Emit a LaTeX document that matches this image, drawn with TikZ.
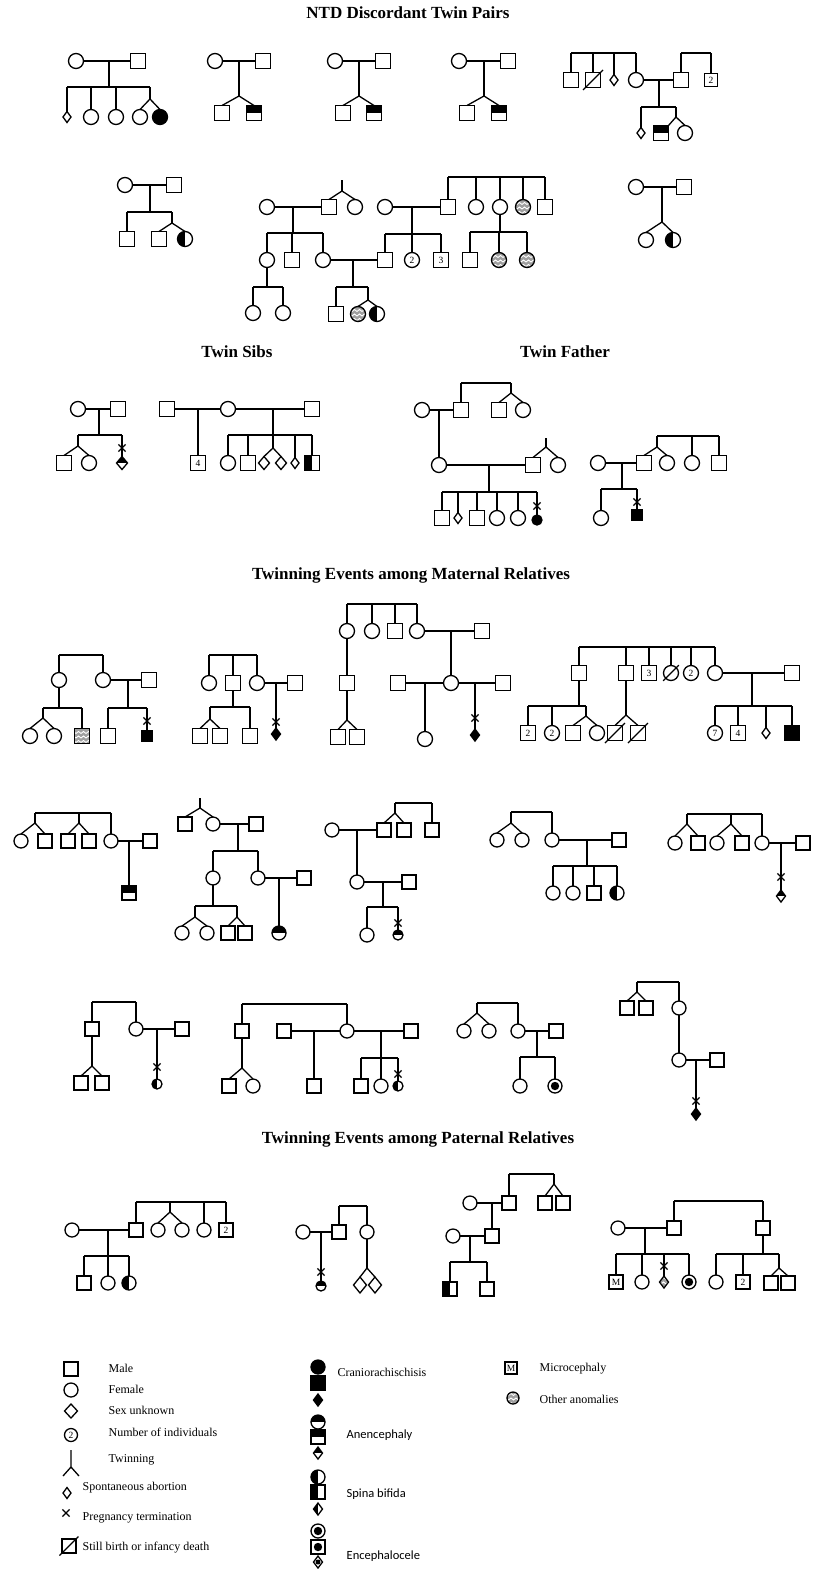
\documentclass[tikz,border=0pt]{standalone}
\usepackage{fontspec}
\setmainfont{Liberation Serif}
\newfontfamily\calib{Carlito}
\usetikzlibrary{shapes.geometric,shapes.misc,calc}
\newcommand\sib[4]{\coordinate (sy) at (0,#1);\draw (#2 |- sy) -- (#3 |- sy);\foreach \nn in {#4}{\draw (\nn |- sy) -- (\nn);}}
\newcommand\dsc[2]{\coordinate (sy) at (0,#2);\draw (#1) -- (#1 |- sy);}
\newcommand\twin[3]{\draw (#2.north) -- (#1) -- (#3.north);}
\newcommand\dead[1]{\draw ($(#1.south west)+(-2.5,2.5)$) -- ($(#1.north east)+(2.5,-2.5)$);}
\def\sz{15pt}
\begin{document}
\begin{tikzpicture}[x=1pt,y=-1pt,line width=1.3pt,
 ind/.style={draw, inner sep=0pt, outer sep=0pt, line width=1.3pt, fill=white},
 M/.style={ind, rectangle, minimum size=\sz},
 F/.style={ind, circle, minimum size=\sz},
 U/.style={ind, diamond, minimum width=11pt, minimum height=13pt},
 SA/.style={ind, diamond, minimum width=8pt, minimum height=11pt},
 Dsm/.style={ind, diamond, minimum width=9pt, minimum height=12pt},
 Msm/.style={ind, rectangle, minimum size=11pt},
 Fsm/.style={ind, circle, minimum size=10pt},
 cr/.style={fill=black},
 an/.style={path picture={\fill[black] (path picture bounding box.north west) rectangle (path picture bounding box.east);}},
 sb/.style={path picture={\fill[black] (path picture bounding box.north west) rectangle (path picture bounding box.south);}},
 en/.style={path picture={\fill[black] (path picture bounding box.center) circle[radius=#1];}}, en/.default=4.2pt,
 oth/.style={fill=gray!75, path picture={\foreach \k in {-4.5,0,4.5}{\draw[white,line width=0.9pt] ($(path picture bounding box.west)+(-1pt,\k*1pt)$) -- ++(2.5pt,-2pt) -- ++(2.5pt,2pt) -- ++(2.5pt,-2pt) -- ++(2.5pt,2pt) -- ++(2.5pt,-2pt) -- ++(2.5pt,2pt) -- ++(2.5pt,-2pt);}}},
 xx/.style={draw, cross out, minimum size=6pt, inner sep=0pt, line width=1.2pt},
 num/.style={font=\fontsize{9.5}{9.5}\selectfont},
 ttl/.style={font=\fontsize{17}{17}\selectfont\bfseries, anchor=base, inner sep=0pt},
 lg/.style={font=\fontsize{12}{12}\selectfont, anchor=west, inner sep=0pt},
 lgs/.style={font=\fontsize{12.5}{12.5}\selectfont\calib, anchor=west, inner sep=0pt}]
\useasboundingbox (0,0) rectangle (825,1569);
\fill[white] (0,0) rectangle (825,1569);

% titles
\node[ttl] (T1) at (408,18) {NTD Discordant Twin Pairs};
\node[ttl] (T2) at (237,357) {Twin Sibs};
\node[ttl] (T3) at (565,357) {Twin Father};
\node[ttl] (T4) at (411,579) {Twinning Events among Maternal Relatives};
\node[ttl] (T5) at (418,1143) {Twinning Events among Paternal Relatives};

% P1
\node[F] (a1) at (76,61) {}; \node[M] (a2) at (138,61) {}; \draw (a1) -- (a2);
\coordinate (a3) at (109,61); \dsc{a3}{87}
\node[SA] (a4) at (67,117) {}; \node[F] (a5) at (91,117) {}; \node[F] (a6) at (116,117) {};
\node[F] (a7) at (140,117) {}; \node[F,cr] (a8) at (160,117) {};
\coordinate (a9) at (150,99);
\sib{87}{a4}{a9}{a4,a5,a6,a9}
\twin{a9}{a7}{a8}
% P2
\node[F] (b1) at (215,61) {}; \node[M] (b2) at (263,61) {}; \draw (b1) -- (b2);
\coordinate (b3) at (239,61); \coordinate (b4) at (239,96); \draw (b3) -- (b4);
\node[M] (b5) at (222,113) {}; \node[M,an] (b6) at (254,113) {}; \twin{b4}{b5}{b6}
% P3
\node[F] (c1) at (335,61) {}; \node[M] (c2) at (383,61) {}; \draw (c1) -- (c2);
\coordinate (c3) at (359,61); \coordinate (c4) at (359,96); \draw (c3) -- (c4);
\node[M] (c5) at (343,113) {}; \node[M,an] (c6) at (374,113) {}; \twin{c4}{c5}{c6}
% P4
\node[F] (d1) at (459,61) {}; \node[M] (d2) at (508,61) {}; \draw (d1) -- (d2);
\coordinate (d3) at (484,61); \coordinate (d4) at (484,96); \draw (d3) -- (d4);
\node[M] (d5) at (467,113) {}; \node[M,an] (d6) at (499,113) {}; \twin{d4}{d5}{d6}
% P5
\node[M] (e1) at (571,80) {}; \node[M] (e2) at (593,80) {}; \dead{e2}
\node[SA] (e3) at (614,80) {}; \node[F] (e4) at (636,80) {};
\sib{53}{e1}{e4}{e1,e2,e3,e4}
\node[M] (e5) at (681,80) {}; \node[M,minimum size=13pt,num] (e6) at (711,80) {2};
\sib{53}{e5}{e6}{e5,e6}
\draw (e4) -- (e5); \coordinate (e7) at (659,80); \dsc{e7}{107}
\node[SA] (e8) at (641,133) {}; \node[M,an] (e9) at (661,133) {}; \node[F] (e10) at (685,133) {};
\coordinate (e11) at (676,117);
\sib{107}{e8}{e11}{e8,e11}
\draw (e9.north east) -- (e11) -- (e10.north);
% P6
\node[F] (f1) at (125,185) {}; \node[M] (f2) at (174,185) {}; \draw (f1) -- (f2);
\coordinate (f0) at (150,185); \dsc{f0}{212}
\node[M] (f3) at (127,239) {}; \node[M] (f4) at (159,239) {}; \node[F,sb] (f5) at (185,239) {};
\coordinate (f6) at (172,223);
\sib{212}{f3}{f6}{f3,f6} \twin{f6}{f4}{f5}
% P7
\node[F] (g1) at (267,207) {}; \node[M] (g2) at (329,207) {}; \node[F] (g3) at (355,207) {};
\coordinate (g4) at (342,180); \coordinate (g5) at (342,191); \draw (g4) -- (g5); \twin{g5}{g2}{g3}
\draw (g1) -- (g2); \coordinate (g6) at (293,207); \dsc{g6}{233}
\node[F] (g7) at (267,260) {}; \node[M] (g8) at (292,260) {}; \node[F] (g9) at (323,260) {};
\sib{233}{g7}{g9}{g7,g8,g9}
\dsc{g7.south}{287}
\node[F] (g10) at (253,313) {}; \node[F] (g11) at (283,313) {};
\sib{287}{g10}{g11}{g10,g11}
\node[M] (g12) at (385,260) {}; \draw (g9) -- (g12); \coordinate (g13) at (353,260); \dsc{g13}{287}
\node[M] (g14) at (336,314) {}; \node[F,oth] (g15) at (358,314) {}; \node[F,sb] (g16) at (377,314) {};
\coordinate (g17) at (368,300); \sib{287}{g14}{g17}{g14,g17} \twin{g17}{g15}{g16}
\node[F] (g18) at (385,207) {}; \node[M] (g19) at (448,207) {}; \draw (g18) -- (g19);
\coordinate (g20) at (412,207); \dsc{g20}{234}
\node[F,num] (g21) at (412,260) {2}; \node[M,num] (g22) at (441,260) {3};
\sib{234}{g12}{g22}{g12,g21,g22}
\node[F] (g23) at (476,207) {}; \node[F] (g24) at (500,207) {}; \node[F,oth] (g25) at (523,207) {}; \node[M] (g26) at (545,207) {};
\sib{177}{g19}{g26}{g19,g23,g24,g25,g26}
\dsc{g24.south}{232}
\node[M] (g27) at (470,260) {}; \node[F,oth] (g28) at (499,260) {}; \node[F,oth] (g29) at (527,260) {};
\sib{232}{g27}{g29}{g27,g28,g29}
% P8
\node[F] (h1) at (636,187) {}; \node[M] (h2) at (684,187) {}; \draw (h1) -- (h2);
\coordinate (h0) at (662,187); \coordinate (h3) at (662,222); \draw (h0) -- (h3);
\node[F] (h4) at (646,240) {}; \node[F,sb] (h5) at (673,240) {}; \twin{h3}{h4}{h5}

% Twin sibs P9
\node[F] (i1) at (78,409) {}; \node[M] (i2) at (118,409) {}; \draw (i1) -- (i2);
\coordinate (i3) at (99,409); \dsc{i3}{435}
\coordinate (i4) at (78,446);
\node[M] (i5) at (64,463) {}; \node[F] (i6) at (89,463) {};
\node[xx] (i7) at (122,448) {}; \node[U,an] (i8) at (122,463) {};
\sib{435}{i4}{i8}{i4,i8} \twin{i4}{i5}{i6}
% P10
\node[M] (j1) at (167,409) {}; \node[F] (j2) at (228,409) {}; \node[M] (j3) at (312,409) {};
\draw (j1) -- (j2); \draw (j2) -- (j3);
\coordinate (j4) at (198,409); \node[M,num] (j5) at (198,463) {4}; \draw (j4) -- (j5);
\coordinate (j6) at (273,409); \dsc{j6}{435}
\node[F] (j7) at (228,463) {}; \node[M] (j8) at (248,463) {}; \coordinate (j9) at (273,448);
\node[U] (j10) at (264,463) {}; \node[U] (j11) at (281,463) {}; \node[SA] (j12) at (295,463) {};
\node[M,sb] (j13) at (312,463) {};
\sib{435}{j7}{j13}{j7,j8,j9,j12,j13} \twin{j9}{j10}{j11}
% Twin father P11
\node[F] (k1) at (422,410) {}; \node[M] (k2) at (461,410) {}; \draw (k1) -- (k2);
\coordinate (k3) at (439,410); \node[F] (k4) at (439,465) {}; \draw (k3) -- (k4);
\coordinate (k6) at (511,393); \sib{383}{k2}{k6}{k2,k6}
\node[M] (k7) at (499,410) {}; \node[F] (k8) at (523,410) {}; \twin{k6}{k7}{k8}
\node[M] (k9) at (533,465) {}; \node[F] (k10) at (558,465) {}; \draw (k4) -- (k9);
\coordinate (k11) at (546,438); \coordinate (k12) at (546,447); \draw (k11) -- (k12); \twin{k12}{k9}{k10}
\coordinate (k13) at (489,465); \dsc{k13}{492}
\node[M] (k14) at (442,518) {}; \node[SA] (k15) at (458,518) {}; \node[M] (k16) at (477,518) {};
\node[F] (k17) at (497,518) {}; \node[F] (k18) at (518,518) {};
\node[xx] (k19) at (537,506) {}; \node[Fsm,cr] (k20) at (537,520) {};
\sib{492}{k14}{k20}{k14,k15,k16,k17,k18,k20}
% P12
\node[F] (l1) at (598,463) {}; \node[M] (l2) at (644,463) {}; \draw (l1) -- (l2);
\coordinate (l3) at (622,463); \dsc{l3}{489}
\node[F] (l4) at (601,518) {}; \node[xx] (l5) at (637,502) {}; \node[Msm,cr] (l6) at (637,515) {};
\sib{489}{l4}{l6}{l4,l6}
\coordinate (l7) at (657,447); \node[M] (l8) at (719,463) {}; \node[F] (l9) at (667,463) {}; \node[F] (l10) at (692,463) {};
\sib{436}{l7}{l8}{l7,l10,l8} \twin{l7}{l2}{l9}

% Maternal row 1, P13
\node[F] (m1) at (59,680) {}; \node[F] (m2) at (103,680) {};
\sib{655}{m1}{m2}{m1,m2}
\node[M] (m3) at (149,680) {}; \draw (m2) -- (m3); \coordinate (m4) at (128,680); \dsc{m4}{708}
\node[M] (m5) at (108,736) {}; \node[xx] (m6) at (147,721) {}; \node[Msm,cr] (m7) at (147,736) {};
\sib{708}{m5}{m7}{m5,m7}
\dsc{m1.south}{708}
\coordinate (m8) at (43,718); \node[F] (m9) at (30,736) {}; \node[F] (m10) at (54,736) {}; \node[M,oth] (m11) at (82,736) {};
\sib{708}{m8}{m11}{m8,m11} \twin{m8}{m9}{m10}
% P14
\node[F] (n1) at (209,683) {}; \node[M] (n2) at (233,683) {}; \node[F] (n3) at (257,683) {};
\sib{655}{n1}{n3}{n1,n2,n3}
\node[M] (n4) at (295,683) {}; \draw (n3) -- (n4); \coordinate (n5) at (276,683);
\node[xx] (n6) at (276,722) {}; \node[Dsm,cr] (n7) at (276,734) {}; \draw (n5) -- (n7);
\dsc{n2.south}{707}
\coordinate (n8) at (210,719); \node[M] (n9) at (200,736) {}; \node[M] (n10) at (220,736) {}; \node[M] (n11) at (250,736) {};
\sib{707}{n8}{n11}{n8,n11} \twin{n8}{n9}{n10}
% P15
\node[F] (o1) at (347,631) {}; \node[F] (o2) at (372,631) {}; \node[M] (o3) at (395,631) {}; \node[F] (o4) at (417,631) {};
\sib{604}{o1}{o4}{o1,o2,o3,o4}
\node[M] (o5) at (482,631) {}; \draw (o4) -- (o5); \coordinate (o6) at (451,631);
\node[F] (o7) at (451,683) {}; \draw (o6) -- (o7);
\node[M] (o8) at (347,683) {}; \draw (o1) -- (o8);
\coordinate (o9) at (347,720); \draw (o8) -- (o9);
\node[M] (o10) at (338,737) {}; \node[M] (o11) at (357,737) {}; \twin{o9}{o10}{o11}
\node[M] (o12) at (398,683) {}; \node[M] (o13) at (503,683) {}; \draw (o12) -- (o7); \draw (o7) -- (o13);
\coordinate (o14) at (425,683); \node[F] (o15) at (425,739) {}; \draw (o14) -- (o15);
\coordinate (o16) at (475,683); \node[xx] (o17) at (475,718) {}; \node[Dsm,cr] (o18) at (475,735) {}; \draw (o16) -- (o18);
% P16
\node[M] (p1) at (579,673) {}; \node[M] (p2) at (626,673) {}; \node[M,num] (p3) at (649,673) {3};
\node[F] (p4) at (671,673) {}; \dead{p4}
\node[F,num] (p5) at (691,673) {2}; \node[F] (p6) at (715,673) {};
\sib{647}{p1}{p6}{p1,p2,p3,p4,p5,p6}
\node[M] (p7) at (792,673) {}; \draw (p6) -- (p7); \coordinate (p8) at (752,673); \dsc{p8}{706}
\node[F,num] (p9) at (715,733) {7}; \node[M,num] (p10) at (738,733) {4}; \node[SA] (p11) at (766,733) {}; \node[M,cr] (p12) at (792,733) {};
\sib{706}{p9}{p12}{p9,p10,p11,p12}
\dsc{p1.south}{706}
\node[M,num] (p13) at (528,733) {2}; \node[F,num] (p14) at (552,733) {2};
\coordinate (p15) at (586,716); \node[M] (p16) at (573,733) {}; \node[F] (p17) at (597,733) {};
\sib{706}{p13}{p15}{p13,p14,p15} \twin{p15}{p16}{p17}
\coordinate (p18) at (626,715); \draw (p2) -- (p18);
\node[M] (p19) at (615,733) {}; \node[M] (p20) at (638,733) {}; \dead{p19} \dead{p20}
\twin{p18}{p19}{p20}

\def\sz{14pt}
% Maternal row 2, P17
\coordinate (q1) at (35,823); \node[F] (q2) at (21,841) {}; \node[M] (q3) at (45,841) {};
\coordinate (q4) at (79,823); \node[M] (q5) at (68,841) {}; \node[M] (q6) at (89,841) {};
\node[F] (q7) at (111,841) {};
\sib{813}{q1}{q7}{q1,q4,q7} \twin{q1}{q2}{q3} \twin{q4}{q5}{q6}
\node[M] (q8) at (150,841) {}; \draw (q7) -- (q8); \coordinate (q9) at (129,841);
\node[M,an] (q10) at (129,893) {}; \draw (q9) -- (q10);
% P18
\coordinate (r1) at (200,798); \coordinate (r2) at (200,808); \draw (r1) -- (r2);
\node[M] (r3) at (185,824) {}; \node[F] (r4) at (213,824) {}; \twin{r2}{r3}{r4}
\node[M] (r5) at (256,824) {}; \draw (r4) -- (r5); \coordinate (r6) at (238,824); \dsc{r6}{851}
\node[F] (r7) at (213,878) {}; \node[F] (r8) at (258,878) {};
\sib{851}{r7}{r8}{r7,r8}
\dsc{r7.south}{906}
\coordinate (r9) at (195,917); \node[F] (r10) at (182,933) {}; \node[F] (r11) at (207,933) {};
\coordinate (r12) at (237,917); \node[M] (r13) at (228,933) {}; \node[M] (r14) at (245,933) {};
\sib{906}{r9}{r12}{r9,r12} \twin{r9}{r10}{r11} \twin{r12}{r13}{r14}
\node[M] (r15) at (304,878) {}; \draw (r8) -- (r15); \coordinate (r16) at (279,878);
\node[F,an] (r17) at (279,933) {}; \draw (r16) -- (r17);
% P19
\node[F] (s1) at (332,830) {}; \node[M] (s2) at (384,830) {}; \node[M] (s3) at (404,830) {}; \node[M] (s4) at (432,830) {};
\coordinate (s5) at (395,813); \sib{803}{s5}{s4}{s5,s4} \twin{s5}{s2}{s3}
\draw (s1) -- (s2); \coordinate (s6) at (357,830); \node[F] (s7) at (357,882) {}; \draw (s6) -- (s7);
\node[M] (s8) at (409,882) {}; \draw (s7) -- (s8); \coordinate (s9) at (383,882); \dsc{s9}{907}
\node[F] (s10) at (367,935) {}; \node[xx] (s11) at (398,923) {}; \node[Fsm,an] (s12) at (398,935) {};
\sib{907}{s10}{s12}{s10,s12}
% P20
\coordinate (t1) at (511,823); \node[F] (t2) at (497,840) {}; \node[F] (t3) at (522,840) {}; \node[F] (t4) at (552,840) {};
\sib{812}{t1}{t4}{t1,t4} \twin{t1}{t2}{t3}
\node[M] (t5) at (619,840) {}; \draw (t4) -- (t5); \coordinate (t6) at (587,840); \dsc{t6}{866}
\node[F] (t7) at (553,893) {}; \node[F] (t8) at (573,893) {}; \node[M] (t9) at (594,893) {}; \node[F,sb] (t10) at (617,893) {};
\sib{866}{t7}{t10}{t7,t8,t9,t10}
% P21
\coordinate (u1) at (687,824); \node[F] (u2) at (675,843) {}; \node[M] (u3) at (698,843) {};
\coordinate (u4) at (731,824); \node[F] (u5) at (717,843) {}; \node[M] (u6) at (742,843) {};
\node[F] (u7) at (762,843) {};
\sib{814}{u1}{u7}{u1,u4,u7} \twin{u1}{u2}{u3} \twin{u4}{u5}{u6}
\node[M] (u8) at (803,843) {}; \draw (u7) -- (u8); \coordinate (u9) at (781,843);
\node[xx] (u10) at (781,877) {}; \node[Dsm,an] (u11) at (781,896) {}; \draw (u9) -- (u11);

% Maternal row 3, P22
\node[M] (v1) at (92,1029) {}; \node[F] (v2) at (136,1029) {};
\sib{1002}{v1}{v2}{v1,v2}
\node[M] (v3) at (182,1029) {}; \draw (v2) -- (v3); \coordinate (v4) at (157,1029);
\node[xx] (v5) at (157,1067) {}; \node[Fsm,sb] (v6) at (157,1084) {}; \draw (v4) -- (v6);
\coordinate (v7) at (92,1066); \draw (v1) -- (v7);
\node[M] (v8) at (81,1083) {}; \node[M] (v9) at (102,1083) {}; \twin{v7}{v8}{v9}
% P23
\node[M] (w1) at (242,1031) {}; \node[F] (w2) at (347,1031) {};
\sib{1004}{w1}{w2}{w1,w2}
\node[M] (w3) at (284,1031) {}; \node[M] (w4) at (411,1031) {}; \draw (w3) -- (w2); \draw (w2) -- (w4);
\coordinate (w5) at (314,1031); \node[M] (w6) at (314,1086) {}; \draw (w5) -- (w6);
\coordinate (w7) at (381,1031); \dsc{w7}{1058}
\node[M] (w8) at (361,1086) {}; \node[F] (w9) at (381,1086) {}; \node[xx] (w10) at (398,1074) {}; \node[Fsm,sb] (w11) at (398,1086) {};
\sib{1058}{w8}{w11}{w8,w9,w11}
\coordinate (w12) at (242,1068); \draw (w1) -- (w12);
\node[M] (w13) at (229,1086) {}; \node[F] (w14) at (253,1086) {}; \twin{w12}{w13}{w14}
% P24
\coordinate (x1) at (477,1013); \node[F] (x2) at (464,1031) {}; \node[F] (x3) at (489,1031) {}; \node[F] (x4) at (518,1031) {};
\sib{1003}{x1}{x4}{x1,x4} \twin{x1}{x2}{x3}
\node[M] (x5) at (556,1031) {}; \draw (x4) -- (x5); \coordinate (x6) at (537,1031); \dsc{x6}{1057}
\node[F] (x7) at (520,1086) {}; \node[F,en] (x8) at (555,1086) {};
\sib{1057}{x7}{x8}{x7,x8}
% P25
\coordinate (y1) at (637,992); \node[M] (y2) at (627,1008) {}; \node[M] (y3) at (646,1008) {}; \node[F] (y4) at (679,1008) {};
\sib{982}{y1}{y4}{y1,y4} \twin{y1}{y2}{y3}
\node[F] (y5) at (679,1060) {}; \draw (y4) -- (y5);
\node[M] (y6) at (717,1060) {}; \draw (y5) -- (y6); \coordinate (y7) at (696,1060);
\node[xx] (y8) at (696,1101) {}; \node[Dsm,cr] (y9) at (696,1114) {}; \draw (y7) -- (y9);

% Paternal, P26
\node[F] (z1) at (72,1230) {}; \node[M] (z2) at (136,1230) {}; \draw (z1) -- (z2);
\coordinate (z3) at (108,1230); \dsc{z3}{1256}
\node[M] (z4) at (84,1283) {}; \node[F] (z5) at (108,1283) {}; \node[F,sb] (z6) at (129,1283) {};
\sib{1256}{z4}{z6}{z4,z5,z6}
\coordinate (z7) at (170,1212); \node[F] (z8) at (158,1230) {}; \node[F] (z9) at (182,1230) {};
\node[F] (z10) at (204,1230) {}; \node[M,num] (z11) at (226,1230) {2};
\sib{1202}{z2}{z11}{z2,z7,z10,z11} \twin{z7}{z8}{z9}
% P27
\node[F] (aa1) at (303,1232) {}; \node[M] (aa2) at (339,1232) {}; \draw (aa1) -- (aa2);
\coordinate (aa3) at (321,1232); \node[xx] (aa4) at (321,1272) {}; \node[Fsm,an] (aa5) at (321,1286) {}; \draw (aa3) -- (aa5);
\node[F] (aa6) at (367,1232) {}; \sib{1206}{aa2}{aa6}{aa2,aa6}
\coordinate (aa7) at (367,1268); \draw (aa6) -- (aa7);
\node[U,minimum width=13pt,minimum height=16pt] (aa8) at (360,1285) {};
\node[U,minimum width=13pt,minimum height=16pt] (aa9) at (375,1285) {};
\twin{aa7}{aa8}{aa9}
% P28
\node[F] (ab1) at (470,1203) {}; \node[M] (ab2) at (509,1203) {}; \draw (ab1) -- (ab2);
\coordinate (ab3) at (492,1203); \node[M] (ab4) at (492,1236) {}; \draw (ab3) -- (ab4);
\coordinate (ab5) at (554,1184); \node[M] (ab6) at (545,1203) {}; \node[M] (ab7) at (563,1203) {};
\sib{1174}{ab2}{ab5}{ab2,ab5} \twin{ab5}{ab6}{ab7}
\node[F] (ab8) at (453,1236) {}; \draw (ab8) -- (ab4); \coordinate (ab9) at (470,1236); \dsc{ab9}{1262}
\node[M,sb] (ab10) at (450,1289) {}; \node[M] (ab11) at (487,1289) {};
\sib{1262}{ab10}{ab11}{ab10,ab11}
% P29
\node[F] (ac1) at (618,1228) {}; \node[M] (ac2) at (674,1228) {}; \draw (ac1) -- (ac2);
\coordinate (ac3) at (645,1228); \dsc{ac3}{1254}
\node[M,num] (ac4) at (616,1282) {M}; \node[F] (ac5) at (642,1282) {};
\node[xx] (ac6) at (664,1266) {}; \node[Dsm,oth] (ac7) at (664,1282) {}; \node[F,en] (ac8) at (689,1282) {};
\sib{1254}{ac4}{ac8}{ac4,ac5,ac7,ac8}
\node[M] (ac9) at (763,1228) {}; \sib{1201}{ac2}{ac9}{ac2,ac9}
\dsc{ac9.south}{1254}
\node[F] (ac10) at (716,1282) {}; \node[M,num] (ac11) at (743,1282) {2};
\coordinate (ac12) at (779,1268); \node[M] (ac13) at (771,1283) {}; \node[M] (ac14) at (788,1283) {};
\sib{1254}{ac10}{ac12}{ac10,ac11,ac12} \twin{ac12}{ac13}{ac14}

% Legend column 1
\node[M] (L1) at (71,1369) {}; \node[lg] (N1) at (108,1368) {Male};
\node[F] (L2) at (71,1390) {}; \node[lg] (N2) at (108,1389) {Female};
\node[U,minimum width=13pt,minimum height=14pt] (L3) at (71,1411) {}; \node[lg] (N3) at (108,1410) {Sex unknown};
\node[F,num,minimum size=13pt] (L4) at (71,1435) {2}; \node[lg] (N4) at (108,1432) {Number of individuals};
\coordinate (L5) at (71,1450); \coordinate (L6) at (71,1467); \coordinate (L7) at (63,1476); \coordinate (L8) at (79,1476);
\draw (L5) -- (L6) -- (L7); \draw (L6) -- (L8); \node[lg] (N5) at (108,1460) {Twinning};
\node[SA] (L9) at (67,1493) {}; \node[lg] (N6) at (82,1488) {Spontaneous abortion};
\node[xx] (L10) at (66,1513) {}; \node[lg] (N7) at (82,1518) {Pregnancy termination};
\node[M] (L11) at (69,1546) {}; \dead{L11} \node[lg] (N8) at (82,1548) {Still birth or infancy death};
% Legend column 2
\node[F,cr] (L12) at (318,1367) {}; \node[M,cr] (L13) at (318,1383) {}; \node[Dsm,cr] (L14) at (318,1400) {};
\node[lg] (N9) at (337,1372) {Craniorachischisis};
\node[F,an] (L15) at (318,1422) {}; \node[M,an] (L16) at (318,1437) {}; \node[Dsm,an] (L17) at (318,1453) {};
\node[lgs] (N10) at (346,1435) {Anencephaly};
\node[F,sb] (L18) at (318,1477) {}; \node[M,sb] (L19) at (318,1492) {}; \node[Dsm,sb] (L20) at (318,1509) {};
\node[lgs] (N11) at (346,1494) {Spina bifida};
\node[F,en] (L21) at (318,1531) {}; \node[M,en] (L22) at (318,1547) {}; \node[Dsm,en=2.5pt] (L23) at (318,1562) {};
\node[lgs] (N12) at (346,1556) {Encephalocele};
% Legend column 3
\node[M,num,minimum size=12pt] (L24) at (511,1368) {M}; \node[lg] (N13) at (539,1369) {Microcephaly};
\node[F,oth,minimum size=12pt] (L25) at (513,1398) {}; \node[lg] (N14) at (539,1399) {Other anomalies};
\end{tikzpicture}
\end{document}
